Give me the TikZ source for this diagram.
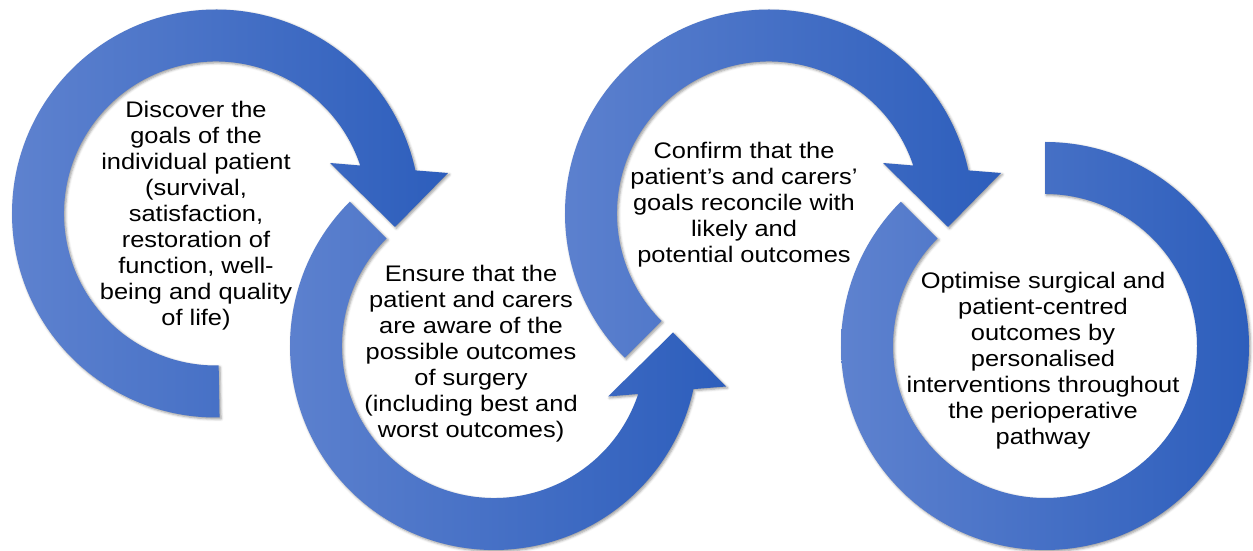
\documentclass[tikz,border=0pt]{standalone}
\usepackage{fontspec}
\setmainfont{Liberation Sans}[FakeStretch=1.13]
\usetikzlibrary{shadows.blur}
\newcommand{\ringOuter}[0]{204}
\newcommand{\ringInner}[0]{152}
\newcommand{\goalSize}[0]{\fontsize{22.5}{26}\selectfont}
\definecolor{ringLight}{HTML}{5E82CF}
\definecolor{ringDark}{HTML}{2D5EBC}

\begin{document}
\begin{tikzpicture}[x=1pt, y=1pt]
  \tikzset{cyclearrow/.style={left color=ringLight, right color=ringDark,
      blur shadow={shadow xshift=1.5pt, shadow yshift=-1.5pt,
        shadow blur radius=2.5pt, shadow opacity=40}},
    goal text/.style={align=center, font=\goalSize, inner sep=0pt}}
  \useasboundingbox (0,0) rectangle (1253,551);
  \coordinate (c1) at (216,337.5);
  \coordinate (c2) at (494,205);
  \coordinate (c3) at (769,337.5);
  \coordinate (c4) at (1045,205);
  % arrow 1, clockwise
  \shade[cyclearrow, shift={(c1)}] (271:\ringOuter)
    arc[start angle=271, end angle=12.2, radius=\ringOuter]
    -- (232,40.5) -- (179,-13.5) -- (114,50.5) -- (18.4:\ringInner)
    arc[start angle=18.4, end angle=271, radius=\ringInner] -- cycle;
  % arrow 2, counter-clockwise
  \shade[cyclearrow, shift={(c2)}] (135:\ringOuter)
    arc[start angle=135, end angle=347.8, radius=\ringOuter]
    -- (232,-40.5) -- (179,13.5) -- (114,-50.5) -- (-18.4:\ringInner)
    arc[start angle=-18.4, end angle=-225, radius=\ringInner] -- cycle;
  % arrow 3, clockwise
  \shade[cyclearrow, shift={(c3)}] (225:\ringOuter)
    arc[start angle=225, end angle=12.2, radius=\ringOuter]
    -- (232,40.5) -- (179,-13.5) -- (114,50.5) -- (18.4:\ringInner)
    arc[start angle=18.4, end angle=225, radius=\ringInner] -- cycle;
  % last ring, no head
  \shade[cyclearrow, shift={(c4)}] (90:\ringOuter)
    arc[start angle=90, end angle=-225, radius=\ringOuter]
    -- (135:\ringInner)
    arc[start angle=135, end angle=450, radius=\ringInner] -- cycle;

  \node[goal text] (discover) at (196,335) {Discover the\\goals of the\\individual patient\\(survival,\\satisfaction,\\restoration of\\function, well-\\being and quality\\of life)};
  \node[goal text] (ensure) at (471,197.5) {Ensure that the\\patient and carers\\are aware of the\\possible outcomes\\of surgery\\(including best and\\worst outcomes)};
  \node[goal text] (confirm) at (744,346) {Confirm that the\\patient’s and carers’\\goals reconcile with\\likely and\\potential outcomes};
  \node[goal text] (optimise) at (1043,190.5) {Optimise surgical and\\patient-centred\\outcomes by\\personalised\\interventions throughout\\the perioperative\\pathway};
\end{tikzpicture}
\end{document}
